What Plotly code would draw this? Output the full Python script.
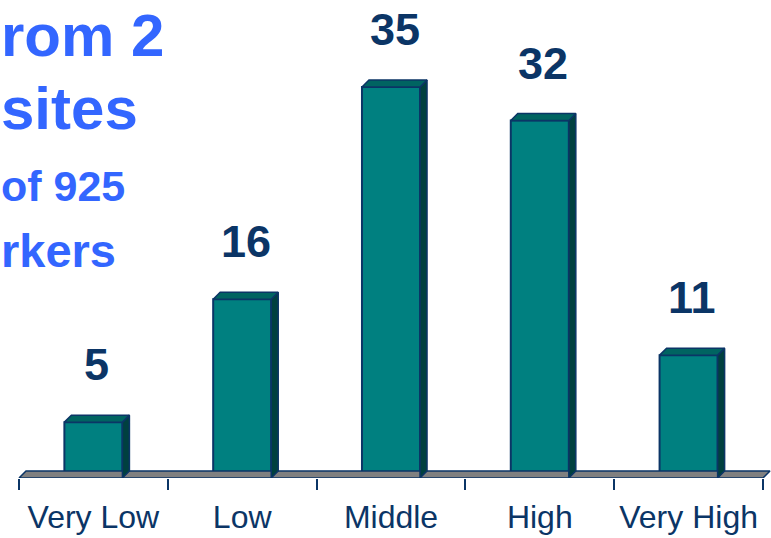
import plotly.graph_objects as go

categories = ["Very Low", "Low", "Middle", "High", "Very High"]
values = [5, 16, 35, 32, 11]
title_lines = ["rom 2", "sites", "of 925", "rkers"]

NAVY = "#0B3566"
FRONT = "#008080"
TOP = "#006461"
SIDE = "#00403F"
BLUE = "#3366FF"

W, H = 771, 538
plot_bottom = 478
px_per_cat = 148.8
px_per_val = 11.17
x0 = -0.5 - 19 / px_per_cat
x1 = 4.5 + 8 / px_per_cat
y_top = plot_bottom / px_per_val

hw = 0.195          # half bar width (category units)
dx = 7 / px_per_cat  # depth offset in data units
dy = 7 / px_per_val

xs = list(range(len(categories)))

fig = go.Figure()

# floor
fx = [-0.5, 4.5, 4.5 + dx, -0.5 + dx, -0.5]
fy = [0, 0, dy, dy, 0]
fig.add_trace(go.Scatter(x=fx, y=fy, fill="toself", fillcolor="#808080",
                         line=dict(color=NAVY, width=1.5), mode="lines",
                         hoverinfo="skip", showlegend=False))

# side and top faces
sx, sy, tx, ty = [], [], [], []
for i, v in zip(xs, values):
    sx += [i + hw, i + hw + dx, i + hw + dx, i + hw, i + hw, None]
    sy += [0, dy, v + dy, v, 0, None]
    tx += [i - hw, i + hw, i + hw + dx, i - hw + dx, i - hw, None]
    ty += [v, v, v + dy, v + dy, v, None]
fig.add_trace(go.Scatter(x=sx, y=sy, fill="toself", fillcolor=SIDE,
                         line=dict(color=NAVY, width=1.5), mode="lines",
                         hoverinfo="skip", showlegend=False))
fig.add_trace(go.Scatter(x=tx, y=ty, fill="toself", fillcolor=TOP,
                         line=dict(color=NAVY, width=1.5), mode="lines",
                         hoverinfo="skip", showlegend=False))

# front faces
fig.add_trace(go.Bar(x=xs, y=values, width=2 * hw,
                     marker=dict(color=FRONT, line=dict(color=NAVY, width=2)),
                     showlegend=False, hoverinfo="skip"))

# value labels
for i, v in zip(xs, values):
    fig.add_annotation(x=i + dx / 2, y=v, text=f"<b>{v}</b>", showarrow=False,
                       yanchor="bottom", yshift=30,
                       font=dict(family="Liberation Sans, Arial", size=45, color=NAVY))

# blue title text (visible part, left-aligned at the page edge)
title_specs = [(36, 60), (108, 60), (186, 43), (250, 47)]
for txt, (yc, sz) in zip(title_lines, title_specs):
    fig.add_annotation(x=0, y=(plot_bottom - yc) / plot_bottom, xref="paper", yref="paper",
                       xanchor="left", yanchor="middle", text=f"<b>{txt}</b>", showarrow=False,
                       borderpad=0,
                       font=dict(family="Liberation Sans, Arial", size=sz, color=BLUE))

fig.update_layout(
    width=W, height=H,
    margin=dict(l=0, r=0, t=0, b=H - plot_bottom),
    paper_bgcolor="white", plot_bgcolor="white",
    barmode="overlay",
    xaxis=dict(range=[x0, x1], tickvals=xs, ticktext=categories,
               ticks="outside", ticklen=11, tickcolor="rgba(0,0,0,0)",
               showgrid=False, zeroline=False, showline=False,
               tickfont=dict(family="Liberation Sans Narrow, Arial Narrow, Liberation Sans",
                             size=32, color=NAVY)),
    xaxis2=dict(range=[x0, x1], overlaying="x", side="bottom",
                tickvals=[-0.5, 0.5, 1.5, 2.5, 3.5, 4.5],
                ticks="outside", ticklen=11, tickwidth=1.5, tickcolor=NAVY,
                showticklabels=False, showgrid=False, zeroline=False, showline=False),
    yaxis=dict(range=[0, y_top], visible=False, showgrid=False, zeroline=False),
)
# dummy trace for the tick axis
fig.add_trace(go.Scatter(x=[None], y=[None], xaxis="x2", showlegend=False, hoverinfo="skip"))

fig.write_html("out.html")
